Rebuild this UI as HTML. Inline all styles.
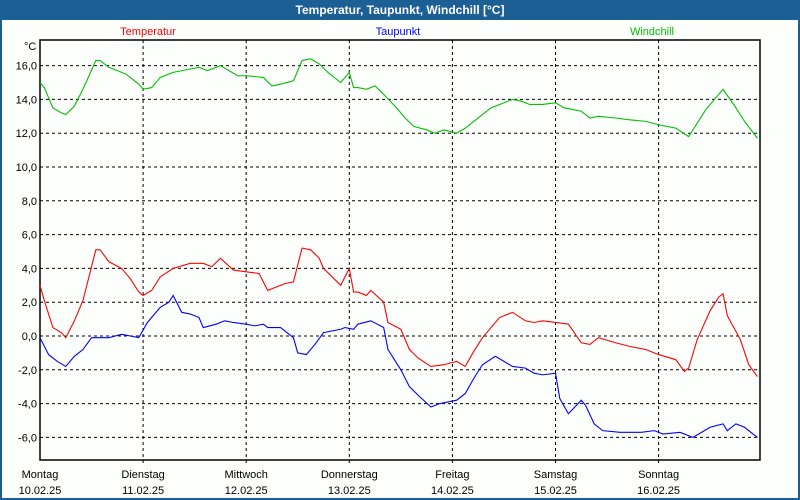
<!DOCTYPE html>
<html><head><meta charset="utf-8"><style>
body{margin:0;width:800px;height:500px;overflow:hidden;background:#1c5f95;font-family:"Liberation Sans",sans-serif}
#frame{position:absolute;left:2px;top:20px;width:796px;height:478px;background:#fdfffd}
#title{position:absolute;left:0;top:0;width:800px;height:20px;line-height:20px;text-align:center;color:#fff;font-weight:bold;font-size:12px}
</style></head><body>
<div id="title">Temperatur, Taupunkt, Windchill [°C]</div>
<div id="frame"></div>
<svg id="chart" width="800" height="500" style="position:absolute;left:0;top:0" font-family="Liberation Sans, sans-serif" font-size="11"></svg>
<script>
const yTicks=[16,14,12,10,8,6,4,2,0,-2,-4,-6];
const dayNames=["Montag","Dienstag","Mittwoch","Donnerstag","Freitag","Samstag","Sonntag"];
const dayDates=["10.02.25","11.02.25","12.02.25","13.02.25","14.02.25","15.02.25","16.02.25"];
const tempHours=[0,1,3,5,6,8,10,13,14,16,19,21,23,24,26,28,31,35,38,40,42,45,48,51,53,57,59,61,63,65,66,70,72,73,74,76,77,80,81,84,86,88,91,94,97,99,101,103,107,110,113,115,117,120,123,126,128,130,134,137,141,144,148,150,151,153,156,158,159,160,163,165,167];
const tempValues=[3.0,2.1,0.5,0.2,-0.1,0.9,2.1,5.1,5.1,4.4,4.0,3.4,2.6,2.4,2.7,3.5,4.0,4.3,4.3,4.1,4.6,3.9,3.8,3.7,2.7,3.1,3.2,5.2,5.1,4.6,4.0,3.0,4.0,2.6,2.6,2.4,2.7,2.0,0.8,0.4,-0.8,-1.3,-1.8,-1.7,-1.5,-1.8,-0.9,-0.1,1.1,1.4,0.9,0.8,0.9,0.8,0.7,-0.4,-0.5,-0.1,-0.4,-0.6,-0.8,-1.1,-1.4,-2.1,-1.9,-0.2,1.5,2.3,2.5,1.2,-0.2,-1.7,-2.4];
const dewHours=[0,2,4,6,8,10,12,14,16,19,21,23,25,28,30,31,33,35,37,38,41,43,45,48,50,52,53,56,59,60,62,64,66,70,71,73,74,77,80,81,84,86,88,91,93,97,99,101,103,106,108,110,113,115,117,120,121,123,126,127,129,131,135,140,143,145,149,152,156,159,160,162,164,167];
const dewValues=[-0.1,-1.1,-1.5,-1.8,-1.2,-0.8,-0.1,-0.1,-0.1,0.1,0,-0.1,0.8,1.7,2.0,2.4,1.4,1.3,1.1,0.5,0.7,0.9,0.8,0.7,0.6,0.7,0.5,0.5,-0.1,-1.0,-1.1,-0.5,0.2,0.4,0.5,0.4,0.7,0.9,0.5,-0.8,-2.0,-3.0,-3.5,-4.2,-4.0,-3.8,-3.4,-2.5,-1.7,-1.2,-1.5,-1.8,-1.9,-2.2,-2.3,-2.2,-3.7,-4.6,-3.8,-4.1,-5.2,-5.6,-5.7,-5.7,-5.6,-5.8,-5.7,-6.0,-5.4,-5.2,-5.6,-5.2,-5.4,-6.0];
const windHours=[0,1,3,5,6,8,10,13,14,16,18,20,23,24,26,28,31,35,37,39,42,46,48,52,54,56,59,61,63,65,67,70,72,73,74,76,78,80,83,85,87,90,92,94,97,99,102,105,110,112,114,117,120,122,126,128,130,134,137,141,144,148,151,152,155,158,159,162,164,167];
const windValues=[15.0,14.7,13.5,13.2,13.1,13.6,14.6,16.3,16.3,15.9,15.7,15.5,14.9,14.6,14.7,15.3,15.6,15.8,15.9,15.7,16.0,15.4,15.4,15.3,14.8,14.9,15.1,16.3,16.4,16.1,15.6,15.0,15.6,14.7,14.7,14.6,14.8,14.3,13.5,12.9,12.4,12.2,12.0,12.2,12.0,12.3,12.9,13.5,14.0,13.9,13.7,13.7,13.8,13.5,13.3,12.9,13.0,12.9,12.8,12.7,12.5,12.3,11.8,12.2,13.4,14.3,14.6,13.5,12.7,11.7];

const svg=document.getElementById('chart');const NS='http://www.w3.org/2000/svg';
const L=40,T=40,R=760,B=460,DAY=103.1;
const x=h=>L+h*DAY/24;
const y=v=>336-v*16.9;
function mk(tag,attrs,parent){const e=document.createElementNS(NS,tag);for(const k in attrs)e.setAttribute(k,attrs[k]);(parent||svg).appendChild(e);return e;}
// grid
yTicks.forEach(v=>{
 const g=mk('line',{x1:L,x2:R,y1:y(v),y2:y(v),stroke:'#000','stroke-dasharray':'3,3'});
 
 
 const t=mk('text',{x:L-3,y:y(v)+4,'text-anchor':'end',fill:'#000'});t.textContent=v.toFixed(1).replace('.',',');
 
 
});
dayNames.forEach((d,i)=>{
 const gx=L+i*DAY;
 if(i>0){const g=mk('line',{x1:gx,x2:gx,y1:T,y2:B+5,stroke:'#000','stroke-dasharray':'3,3'});
 
 }
 const t=mk('text',{x:gx,y:478,'text-anchor':'middle',fill:'#000'});t.textContent=d;
 
 
 const t2=mk('text',{x:gx,y:494,'text-anchor':'middle',fill:'#000'});t2.textContent=dayDates[i];
 
 
});
const ax=mk('rect',{x:L,y:T,width:R-L,height:B-T,fill:'none',stroke:'#000','stroke-width':1.5});


const u=mk('text',{x:24,y:50,fill:'#000'});u.textContent='°C';


function series(hs,vs,color,name){
 const p=mk('polyline',{points:hs.map((h,i)=>x(h)+','+y(vs[i])).join(' '),fill:'none',stroke:color,'stroke-width':1.1});
 
 
}
series(windHours,windValues,'#00c000','windchill-line');
series(tempHours,tempValues,'#ff0000','temperature-line');
series(dewHours,dewValues,'#0000ff','dewpoint-line');
[['Temperatur','#ff0000',148],['Taupunkt','#0000ff',398],['Windchill','#00c000',652]].forEach(([n,c,cx])=>{
 const t=mk('text',{x:cx,y:35,'text-anchor':'middle',fill:c});t.textContent=n;
 
 
});
</script>
</body></html>
